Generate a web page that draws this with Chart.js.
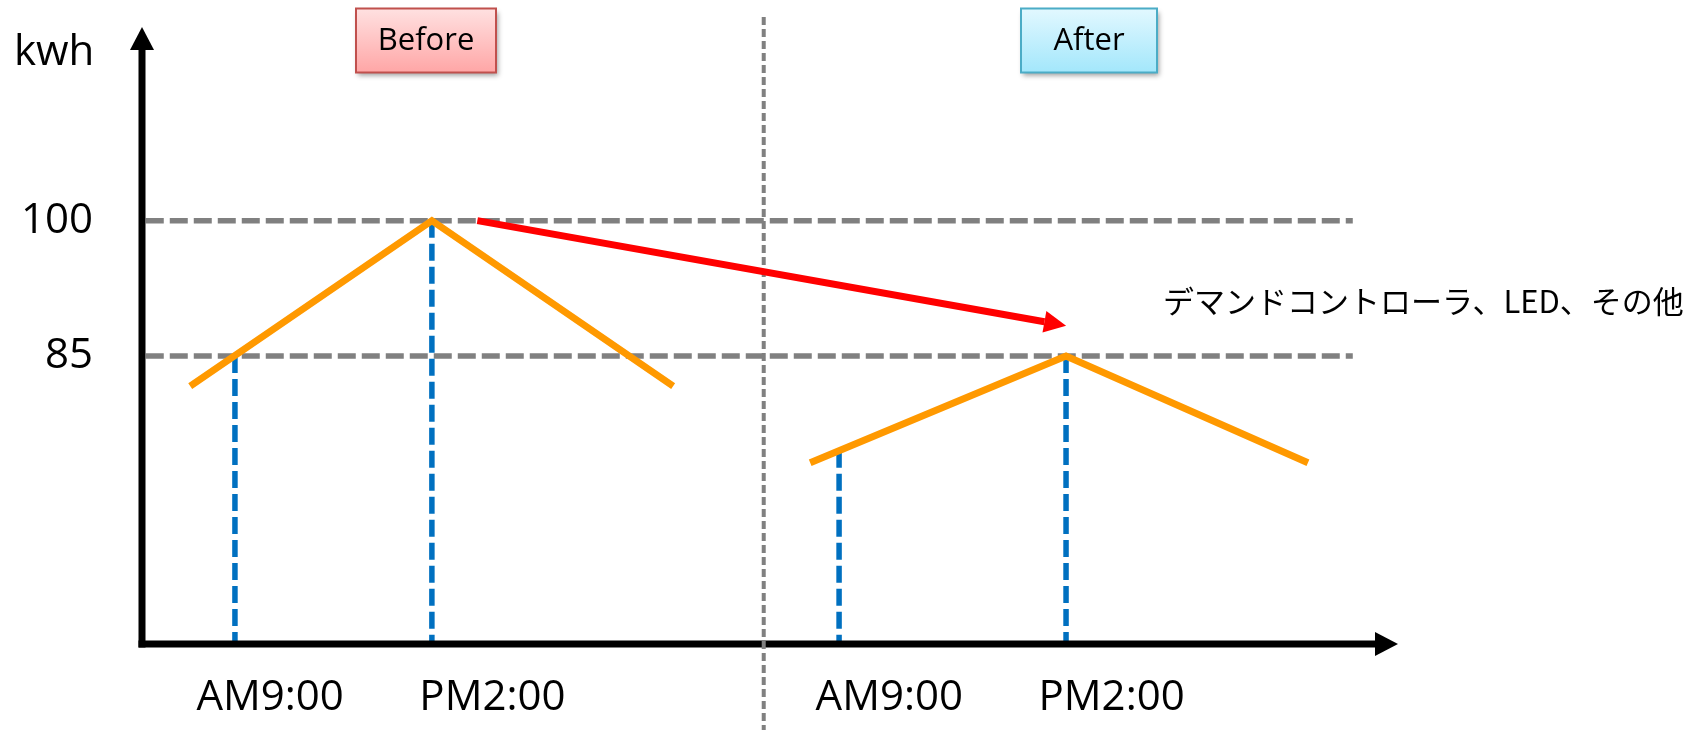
<!DOCTYPE html>
<html>
<head>
<meta charset="utf-8">
<script src="https://cdn.jsdelivr.net/npm/chart.js@4/dist/chart.umd.min.js"></script>
<style>
  html, body { margin: 0; padding: 0; background: #ffffff; }
  #wrap { width: 1708px; height: 730px; }
</style>
</head>
<body>
<div id="wrap"><canvas id="chart" width="1708" height="730"></canvas></div>
<script>
// ---- data ----
const yTickValues = [85, 100];
const yUnit = 'kwh';
const xTickLabels = ['AM9:00', 'PM2:00', 'AM9:00', 'PM2:00'];
const xTickValues = [10.2, 27.9, 59.5, 77.2];

// demand profile before and after the measures (kWh)
const beforeLoad = [{ x: 3.84, y: 81.65 }, { x: 23.08, y: 100 }, { x: 42.29, y: 81.65 }];
const afterLoad  = [{ x: 53.2, y: 73.16 }, { x: 73.57, y: 85 }, { x: 92.83, y: 73.16 }];

// time markers dropped to the time axis
const markerPoints = [{ x: 7.4, y: 85 }, { x: 23.08, y: 100 }, { x: 55.5, y: 74.5 }, { x: 73.57, y: 85 }];

// reference levels
const refLevels = [100, 85];
const refSpan = [0.3, 96.4];

// before / after divider
const dividerX = 49.5;

// reduction arrow
const reductionArrow = [{ x: 26.7, y: 100 }, { x: 71.85, y: 88.79 }];

const panelTags = ['Before', 'After'];
const measureNote = 'デマンドコントローラ、LED、その他';

// ---- scale range ----
const Y_MIN = 53.07, Y_MAX = 121.47;
const X_MIN = 0, X_MAX = 100;

const FONT = '"Open Sans", "Noto Sans", sans-serif';
const ORANGE = '#FF9900', BLUE = '#0070C0', GREY = '#808080', RED = '#FF0000';

const datasets = [];

refLevels.forEach(v => datasets.push({
  data: [{ x: refSpan[0], y: v }, { x: refSpan[1], y: v }],
  borderColor: GREY, borderWidth: 5.5, borderDash: [18, 6], order: 4
}));

markerPoints.forEach(p => datasets.push({
  data: [{ x: p.x, y: p.y }, { x: p.x, y: Y_MIN }],
  borderColor: BLUE, borderWidth: 5.5, borderDash: [17, 6], order: 3
}));

datasets.push({ data: beforeLoad, borderColor: ORANGE, borderWidth: 7, order: 2 });
datasets.push({ data: afterLoad, borderColor: ORANGE, borderWidth: 7, order: 2 });

const DIVIDER_INDEX = datasets.length;
datasets.push({
  data: [{ x: dividerX, y: Y_MAX + 1.1 }, { x: dividerX, y: Y_MIN - 9.6 }],
  borderColor: GREY, borderWidth: 4, borderDash: [8, 4], order: 1
});

const ARROW_INDEX = datasets.length;
datasets.push({ data: reductionArrow, borderColor: RED, borderWidth: 7, order: 0 });

datasets.forEach(d => {
  d.showLine = true;
  d.pointRadius = 0;
  d.pointHoverRadius = 0;
  d.borderCapStyle = 'butt';
  d.borderJoinStyle = 'miter';
  d.tension = 0;
  d.clip = false;
  d.fill = false;
});

// ---- drawing helpers ----
function drawAxes(chart) {
  const ctx = chart.ctx, a = chart.chartArea;
  const x0 = chart.scales.x.getPixelForValue(X_MIN);
  const y0 = chart.scales.y.getPixelForValue(Y_MIN);
  const lw = 7, head = 23, half = 12;
  ctx.save();
  ctx.fillStyle = '#000';
  ctx.strokeStyle = '#000';
  ctx.lineWidth = lw;
  ctx.lineCap = 'butt';
  // vertical axis
  ctx.beginPath();
  ctx.moveTo(x0, y0 + lw / 2);
  ctx.lineTo(x0, a.top + head);
  ctx.stroke();
  ctx.beginPath();
  ctx.moveTo(x0, a.top);
  ctx.lineTo(x0 - half, a.top + head);
  ctx.lineTo(x0 + half, a.top + head);
  ctx.closePath();
  ctx.fill();
  // horizontal axis
  ctx.beginPath();
  ctx.moveTo(x0 - lw / 2, y0);
  ctx.lineTo(a.right - head, y0);
  ctx.stroke();
  ctx.beginPath();
  ctx.moveTo(a.right, y0);
  ctx.lineTo(a.right - head, y0 - half);
  ctx.lineTo(a.right - head, y0 + half);
  ctx.closePath();
  ctx.fill();
  ctx.restore();
}

function drawArrowHead(chart) {
  const meta = chart.getDatasetMeta(ARROW_INDEX);
  const p0 = meta.data[0], p1 = meta.data[meta.data.length - 1];
  const dx = p1.x - p0.x, dy = p1.y - p0.y, len = Math.hypot(dx, dy);
  const ux = dx / len, uy = dy / len;
  const head = 22, half = 11;
  const tx = p1.x + ux * head, ty = p1.y + uy * head;
  const ctx = chart.ctx;
  ctx.save();
  ctx.fillStyle = RED;
  ctx.beginPath();
  ctx.moveTo(tx, ty);
  ctx.lineTo(p1.x - uy * half, p1.y + ux * half);
  ctx.lineTo(p1.x + uy * half, p1.y - ux * half);
  ctx.closePath();
  ctx.fill();
  ctx.restore();
}

function drawTag(ctx, x, y, w, h, text, top, bottom, border) {
  ctx.save();
  ctx.shadowColor = 'rgba(0,0,0,0.38)';
  ctx.shadowBlur = 5;
  ctx.shadowOffsetX = 2;
  ctx.shadowOffsetY = 3;
  const g = ctx.createLinearGradient(0, y, 0, y + h);
  g.addColorStop(0, top);
  g.addColorStop(1, bottom);
  ctx.fillStyle = g;
  ctx.fillRect(x, y, w, h);
  ctx.shadowColor = 'rgba(0,0,0,0)';
  ctx.lineWidth = 2;
  ctx.strokeStyle = border;
  ctx.strokeRect(x, y, w, h);
  ctx.fillStyle = '#000';
  ctx.font = '31px ' + FONT;
  ctx.textAlign = 'center';
  ctx.textBaseline = 'middle';
  ctx.fillText(text, x + w / 2, y + h / 2 + 1);
  ctx.restore();
}

const decorations = {
  id: 'decorations',
  beforeDatasetDraw(chart, args) {
    if (args.index === DIVIDER_INDEX) drawAxes(chart);
  },
  afterDatasetDraw(chart, args) {
    if (args.index === ARROW_INDEX) drawArrowHead(chart);
  },
  afterDraw(chart) {
    const ctx = chart.ctx;
    ctx.save();
    ctx.fillStyle = '#000';
    ctx.font = '42px ' + FONT;
    ctx.textAlign = 'left';
    ctx.textBaseline = 'alphabetic';
    ctx.fillText(yUnit, 14, 65);
    ctx.font = '31px "Noto Sans CJK JP", sans-serif';
    ctx.textBaseline = 'middle';
    ctx.fillText(measureNote, 1163, 301);
    ctx.restore();
    drawTag(ctx, 356, 8.5, 140, 64, panelTags[0], '#FFE1E1', '#FFA6A6', '#C0504D');
    drawTag(ctx, 1021, 8.5, 136, 64, panelTags[1], '#E2F8FF', '#A3E7FB', '#4BACC6');
  }
};

new Chart(document.getElementById('chart'), {
  type: 'scatter',
  data: { datasets },
  options: {
    responsive: false,
    animation: false,
    events: [],
    layout: { padding: { left: 0, top: 27, right: 310, bottom: 0 } },
    plugins: { legend: { display: false }, tooltip: { enabled: false }, title: { display: false } },
    scales: {
      x: {
        type: 'linear', min: X_MIN, max: X_MAX,
        grid: { display: false, drawTicks: false },
        border: { display: false },
        afterBuildTicks: s => { s.ticks = xTickValues.map(v => ({ value: v })); },
        afterFit: s => { s.height = 86; s.paddingLeft = 0; s.paddingRight = 0; },
        ticks: {
          autoSkip: false, maxRotation: 0, padding: 29, color: '#000',
          font: { family: FONT, size: 42 },
          callback: (v, i) => xTickLabels[i]
        }
      },
      y: {
        type: 'linear', min: Y_MIN, max: Y_MAX,
        grid: { display: false, drawTicks: false },
        border: { display: false },
        afterBuildTicks: s => { s.ticks = yTickValues.map(v => ({ value: v })); },
        afterFit: s => { s.width = 142; s.paddingTop = 0; s.paddingBottom = 0; },
        ticks: {
          autoSkip: false, padding: 49, color: '#000',
          font: { family: FONT, size: 42 },
          callback: v => String(v)
        }
      }
    }
  },
  plugins: [decorations]
});
</script>
</body>
</html>
